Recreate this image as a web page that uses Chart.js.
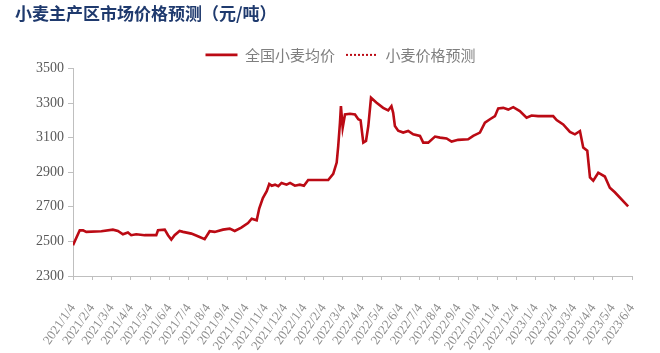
<!DOCTYPE html>
<html>
<head>
<meta charset="utf-8">
<script src="https://cdn.jsdelivr.net/npm/chart.js@4/dist/chart.umd.min.js"></script>
<style>
html,body{margin:0;padding:0;background:#fff;}
#wrap{width:660px;height:353px;position:relative;}
</style>
</head>
<body>
<div id="wrap"><canvas id="c" width="660" height="353"></canvas></div>
<script>
// Tick labels (one per month, starting 2021/1/4)
const monthLabels = ['2021/1/4','2021/2/4','2021/3/4','2021/4/4','2021/5/4','2021/6/4','2021/7/4','2021/8/4','2021/9/4','2021/10/4','2021/11/4','2021/12/4',
  '2022/1/4','2022/2/4','2022/3/4','2022/4/4','2022/5/4','2022/6/4','2022/7/4','2022/8/4','2022/9/4','2022/10/4','2022/11/4','2022/12/4',
  '2023/1/4','2023/2/4','2023/3/4','2023/4/4','2023/5/4','2023/6/4'];

// Time of each observation, in months after 2021/1/4
const obsMonth = [0,0.35,0.52,0.69,1.47,2.07,2.33,2.59,2.85,3.02,3.28,3.72,4.32,4.41,4.76,4.93,5.10,5.27,5.53,5.71,6.14,6.48,6.83,7.09,7.35,7.78,8.13,8.39,8.73,9.08,9.27,9.53,9.66,9.85,10.05,10.18,10.31,10.48,10.65,10.82,11.08,11.26,11.51,11.77,11.98,12.20,13.24,13.50,13.68,13.76,13.85,13.90,13.99,14.11,14.37,14.63,14.80,14.92,15.06,15.20,15.32,15.46,15.75,16.09,16.35,16.52,16.61,16.70,16.87,17.13,17.39,17.65,18.00,18.17,18.43,18.78,19.04,19.38,19.64,19.98,20.50,20.76,21.11,21.37,21.63,21.89,22.06,22.32,22.58,22.84,23.18,23.53,23.79,24.13,24.48,24.91,25.09,25.43,25.78,26.04,26.30,26.47,26.68,26.82,26.99,27.25,27.59,27.85,28.11,28.80];

// 全国小麦均价 (元/吨)
const avgPrice = [2478,2564,2564,2555,2559,2568,2560,2541,2551,2536,2541,2536,2536,2564,2568,2536,2511,2536,2560,2555,2545,2530,2513,2559,2555,2568,2574,2560,2580,2606,2631,2622,2690,2750,2790,2832,2822,2828,2819,2838,2828,2838,2822,2828,2822,2855,2855,2890,2956,3052,3186,3282,3157,3234,3238,3234,3206,3200,3071,3081,3167,3330,3301,3272,3257,3282,3243,3167,3140,3129,3138,3119,3110,3071,3071,3106,3100,3095,3077,3087,3090,3110,3129,3186,3206,3224,3269,3272,3262,3276,3253,3215,3228,3224,3224,3224,3201,3176,3133,3119,3138,3043,3024,2870,2851,2897,2875,2810,2784,2702];

// 小麦价格预测 (no visible points in the reference)
const forecastMonth = [];
const forecastPrice = [];

const yTicks = [2300,2500,2700,2900,3100,3300,3500];

const avgData = obsMonth.map((m,i)=>({x:m,y:avgPrice[i]}));
const fcData = forecastMonth.map((m,i)=>({x:m,y:forecastPrice[i]}));

const RED = '#BB0A14';
const AXIS = '#BFBFBF';

// nudge the legend block (drawing only), as placed in the reference
const legendShift = {
  id: 'legendShift',
  afterLayout(chart) {
    const lg = chart.legend;
    if (lg) { lg.left += 17; lg.right += 17; lg.top += 4; lg.bottom += 4; }
  }
};

new Chart(document.getElementById('c'), {
  type: 'line',
  data: {
    datasets: [
      {label:'全国小麦均价', data: avgData, borderColor: RED, backgroundColor: RED, borderWidth: 2.6, pointRadius: 0, tension: 0},
      {label:'小麦价格预测', data: fcData, borderColor: RED, backgroundColor: RED, borderWidth: 2, borderDash:[2,2], pointRadius: 0, tension: 0}
    ]
  },
  plugins: [legendShift],
  options: {
    responsive: false,
    animation: false,
    layout: {padding: {left: 15, right: 28, top: 0, bottom: 0}},
    plugins: {
      title: {
        display: true,
        text: '小麦主产区市场价格预测（元/吨）',
        align: 'start',
        color: '#1F3A6E',
        font: {family: '"Noto Sans CJK SC"', size: 17, weight: 'bold'},
        padding: {top: 3, bottom: 9}
      },
      legend: {
        display: true,
        position: 'top',
        labels: {
          usePointStyle: true,
          pointStyle: 'line',
          pointStyleWidth: 32,
          boxHeight: 12,
          color: '#7F7F7F',
          font: {family: '"Noto Sans CJK SC"', size: 15},
          padding: 11,
          generateLabels: (chart) => chart.data.datasets.map((ds, i) => ({
            text: ds.label,
            fillStyle: ds.borderColor,
            strokeStyle: ds.borderColor,
            lineWidth: ds.borderWidth,
            lineDash: ds.borderDash || [],
            lineCap: 'butt',
            pointStyle: 'line',
            fontColor: '#7F7F7F',
            hidden: false,
            datasetIndex: i
          }))
        }
      },
      tooltip: {enabled: false}
    },
    scales: {
      x: {
        type: 'linear',
        min: 0,
        max: monthLabels.length - 1,
        afterFit: (s) => { s.height = 77; s.paddingLeft = 0; s.paddingRight = 0; },
        afterBuildTicks: (s) => { s.ticks = monthLabels.map((_, i) => ({value: i})); },
        ticks: {
          autoSkip: false,
          maxRotation: 55,
          minRotation: 55,
          padding: 21,
          color: '#8C8C8C',
          font: {family: '"Liberation Serif"', size: 13},
          callback: (v) => monthLabels[v]
        },
        grid: {drawOnChartArea: false, drawTicks: true, tickLength: 4, color: AXIS},
        border: {display: true, color: AXIS, width: 1}
      },
      y: {
        min: 2300,
        max: 3500,
        afterFit: (s) => { s.width = 58; s.paddingTop = 0; s.paddingBottom = 0; },
        afterBuildTicks: (s) => { s.ticks = yTicks.map(v => ({value: v})); },
        ticks: {
          padding: 4,
          color: '#595959',
          font: {family: '"Liberation Serif"', size: 14},
          callback: (v) => String(v)
        },
        grid: {drawOnChartArea: false, drawTicks: true, tickLength: 5, color: AXIS},
        border: {display: true, color: AXIS, width: 1}
      }
    }
  }
});
</script>
</body>
</html>
